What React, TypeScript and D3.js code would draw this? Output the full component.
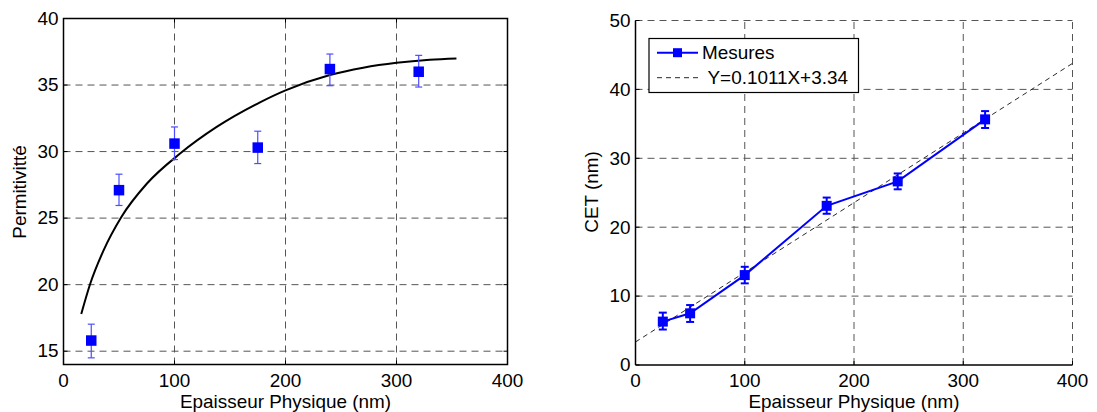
import React from "react";
import * as d3 from "d3";

// Left chart: permittivity vs physical thickness
const thickness = [25, 50, 100, 175, 240, 320];
const permittivity = [15.8, 27.1, 30.6, 30.3, 36.2, 36.0];
const permErrLow = [14.5, 25.95, 29.4, 29.1, 34.95, 34.85];
const permErrHigh = [17.03, 28.3, 31.85, 31.53, 37.33, 37.23];
// Fitted curve points
const fitX = [16, 24, 36, 52, 75, 105, 138, 177, 200, 240, 270, 300, 330, 354];
const fitY = [17.8, 20.05, 22.56, 25.07, 27.58, 29.85, 31.85, 33.7, 34.6, 35.75, 36.3, 36.67, 36.9, 37.0];

// Right chart: CET vs physical thickness
const cet = [6.3, 7.5, 13.05, 23.1, 26.65, 35.65];
const cetErrLow = [5.15, 6.25, 11.85, 21.95, 25.5, 34.4];
const cetErrHigh = [7.6, 8.7, 14.25, 24.3, 27.8, 36.85];
const fitSlope = 0.1011;
const fitIntercept = 3.34;
const fitRange = [0, 400];

const xTicks = [0, 100, 200, 300, 400];
const leftYTicks = [15, 20, 25, 30, 35, 40];
const rightYTicks = [0, 10, 20, 30, 40, 50];

const xLabel = "Epaisseur Physique (nm)";
const leftYLabel = "Permitivitté";
const rightYLabel = "CET (nm)";
const legendLabels = ["Mesures", "Y=0.1011X+3.34"];

const FONT = "'Liberation Sans', Arial, Helvetica, sans-serif";
const FS = 17.5;
const SX = 1.08;
const GRID = "#555";
const DASH = "7,5";
const BLUE = "#0000ff";

function T({ x, y, anchor = "start", rotate = 0, dy = 0, children }: any) {
  return (
    <g transform={`translate(${x},${y}) rotate(${rotate}) scale(${SX},1)`}>
      <text
        x={0}
        y={0}
        dy={dy}
        textAnchor={anchor}
        fontFamily={FONT}
        fontSize={FS}
        fill="#000"
      >
        {children}
      </text>
    </g>
  );
}

export default function App() {
  // Left scales
  const lx = d3.scaleLinear().domain([0, 400]).range([63.5, 507.5]);
  const ly = d3.scaleLinear().domain([14, 40]).range([364.5, 18.5]);
  // Right scales
  const rx = d3.scaleLinear().domain([0, 400]).range([635.5, 1072.5]);
  const ry = d3.scaleLinear().domain([0, 50]).range([365, 20.5]);

  const fitPts = fitX.map((x, i) => [x, fitY[i]] as [number, number]);
  const fitPath = d3
    .line<[number, number]>()
    .x((d) => lx(d[0]))
    .y((d) => ly(d[1]))
    .curve(d3.curveMonotoneX)(fitPts);

  const mesPath = d3
    .line<number>()
    .x((d) => rx(d))
    .y((_, i) => ry(cet[i]))(thickness);

  const linFit = fitRange.map((x) => [x, fitSlope * x + fitIntercept]);

  const ms = 10.5;

  return (
    <svg width={1097} height={412} style={{ display: "block", position: "absolute", left: 0, top: 0 }}>
      <rect x={0} y={0} width={1097} height={412} fill="#fff" />

      {/* ===== LEFT CHART ===== */}
      <g>
        {xTicks.slice(1, -1).map((t) => (
          <line key={"lgx" + t} x1={lx(t)} x2={lx(t)} y1={ly(14)} y2={ly(40)} stroke={GRID} strokeDasharray={DASH} strokeWidth={1} />
        ))}
        {leftYTicks.slice(0, -1).map((t) => (
          <line key={"lgy" + t} x1={lx(0)} x2={lx(400)} y1={ly(t)} y2={ly(t)} stroke={GRID} strokeDasharray={DASH} strokeWidth={1} />
        ))}
        <rect x={lx(0)} y={ly(40)} width={lx(400) - lx(0)} height={ly(14) - ly(40)} fill="none" stroke="#000" strokeWidth={1.5} />
        {xTicks.map((t) => (
          <g key={"ltx" + t}>
            <line x1={lx(t)} x2={lx(t)} y1={ly(14)} y2={ly(14) - 4} stroke="#000" />
            <line x1={lx(t)} x2={lx(t)} y1={ly(40)} y2={ly(40) + 4} stroke="#000" />
            <T x={lx(t)} y={386.5} anchor="middle">{t}</T>
          </g>
        ))}
        {leftYTicks.map((t) => (
          <g key={"lty" + t}>
            <line x1={lx(0)} x2={lx(0) + 4} y1={ly(t)} y2={ly(t)} stroke="#000" />
            <line x1={lx(400)} x2={lx(400) - 4} y1={ly(t)} y2={ly(t)} stroke="#000" />
            <T x={lx(0) - 5} y={ly(t)} anchor="end" dy="0.36em">{t}</T>
          </g>
        ))}
        <path d={fitPath || ""} fill="none" stroke="#000" strokeWidth={2} />
        {thickness.map((x, i) => (
          <g key={"leb" + i} stroke="#4d4dff" strokeWidth={1.2}>
            <line x1={lx(x)} x2={lx(x)} y1={ly(permErrLow[i])} y2={ly(permErrHigh[i])} />
            <line x1={lx(x) - 3.5} x2={lx(x) + 3.5} y1={ly(permErrLow[i])} y2={ly(permErrLow[i])} />
            <line x1={lx(x) - 3.5} x2={lx(x) + 3.5} y1={ly(permErrHigh[i])} y2={ly(permErrHigh[i])} />
          </g>
        ))}
        {thickness.map((x, i) => (
          <rect key={"lm" + i} x={lx(x) - ms / 2} y={ly(permittivity[i]) - ms / 2} width={ms} height={ms} fill={BLUE} />
        ))}
        <T x={(lx(0) + lx(400)) / 2} y={407.5} anchor="middle">{xLabel}</T>
        <T x={26} y={192} anchor="middle" rotate={-90}>{leftYLabel}</T>
      </g>

      {/* ===== RIGHT CHART ===== */}
      <g>
        {xTicks.slice(1).map((t) => (
          <line key={"rgx" + t} x1={rx(t)} x2={rx(t)} y1={ry(0)} y2={ry(50)} stroke={GRID} strokeDasharray={DASH} strokeWidth={1} />
        ))}
        {rightYTicks.slice(1).map((t) => (
          <line key={"rgy" + t} x1={rx(0)} x2={rx(400)} y1={ry(t)} y2={ry(t)} stroke={GRID} strokeDasharray={DASH} strokeWidth={1} />
        ))}
        <line x1={rx(0)} x2={rx(0)} y1={ry(0)} y2={ry(50)} stroke="#000" strokeWidth={1.5} />
        <line x1={rx(0)} x2={rx(400)} y1={ry(0)} y2={ry(0)} stroke="#000" strokeWidth={1.5} />
        {xTicks.map((t) => (
          <g key={"rtx" + t}>
            <line x1={rx(t)} x2={rx(t)} y1={ry(0)} y2={ry(0) - 4} stroke="#000" />
            <T x={rx(t)} y={386.5} anchor="middle">{t}</T>
          </g>
        ))}
        {rightYTicks.map((t) => (
          <g key={"rty" + t}>
            <line x1={rx(0)} x2={rx(0) + 4} y1={ry(t)} y2={ry(t)} stroke="#000" />
            <T x={rx(0) - 5} y={ry(t)} anchor="end" dy="0.36em">{t}</T>
          </g>
        ))}
        <line
          x1={rx(linFit[0][0])}
          y1={ry(linFit[0][1])}
          x2={rx(linFit[1][0])}
          y2={ry(linFit[1][1])}
          stroke="#111"
          strokeWidth={0.9}
          strokeDasharray="5,4"
        />
        <path d={mesPath || ""} fill="none" stroke={BLUE} strokeWidth={2} />
        {thickness.map((x, i) => (
          <g key={"reb" + i} stroke={BLUE} strokeWidth={2}>
            <line x1={rx(x)} x2={rx(x)} y1={ry(cetErrLow[i])} y2={ry(cetErrHigh[i])} />
            <line x1={rx(x) - 4} x2={rx(x) + 4} y1={ry(cetErrLow[i])} y2={ry(cetErrLow[i])} />
            <line x1={rx(x) - 4} x2={rx(x) + 4} y1={ry(cetErrHigh[i])} y2={ry(cetErrHigh[i])} />
          </g>
        ))}
        {thickness.map((x, i) => (
          <rect key={"rm" + i} x={rx(x) - 5} y={ry(cet[i]) - 5} width={10} height={10} fill={BLUE} />
        ))}
        <rect x={649} y={38.5} width={209.5} height={54} fill="#fff" stroke="#000" strokeWidth={1.2} />
        <line x1={657} x2={698} y1={52.7} y2={52.7} stroke={BLUE} strokeWidth={2} />
        <rect x={677.5 - 4.5} y={52.7 - 4.5} width={9} height={9} fill={BLUE} />
        <T x={702} y={52.7} dy="0.36em">{legendLabels[0]}</T>
        <line x1={657} x2={698} y1={77.7} y2={77.7} stroke="#111" strokeWidth={0.9} strokeDasharray="5,4" />
        <T x={707.5} y={77.7} dy="0.36em">{legendLabels[1]}</T>
        <T x={(rx(0) + rx(400)) / 2} y={407.5} anchor="middle">{xLabel}</T>
        <T x={597.5} y={192} anchor="middle" rotate={-90}>{rightYLabel}</T>
      </g>
    </svg>
  );
}
